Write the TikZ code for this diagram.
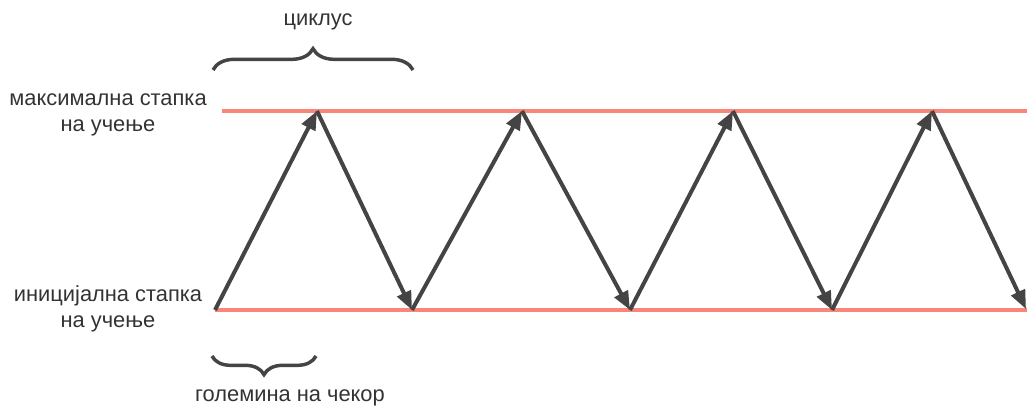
\documentclass[tikz,border=0pt]{standalone}
\usepackage{fontspec}
\setmainfont{Liberation Sans}
\usetikzlibrary{arrows.meta,decorations.pathreplacing}
\definecolor{arrowgray}{HTML}{444444}
\definecolor{salmon}{HTML}{F8877A}
\definecolor{txtgray}{HTML}{333333}
\begin{document}
\begin{tikzpicture}[x=0.75pt,y=-0.75pt,
  level/.style={draw=salmon,line width=2.6pt},
  zig/.style={draw=arrowgray,line width=3pt,-{Triangle[length=14pt,width=11pt]}},
  lbl/.style={text=txtgray,font=\fontsize{16.4}{19}\selectfont,align=center,inner sep=0pt},
  brc/.style={draw=arrowgray,line width=2.6pt,decorate}]
\useasboundingbox (0,0) rectangle (1027,409);
% levels
\coordinate (tl) at (222,111);
\coordinate (tr) at (1027,111);
\coordinate (bl) at (215,310);
\coordinate (br) at (1027,310);
\draw[level] (tl) -- (tr);
\draw[level] (bl) -- (br);
% vertices
\coordinate (b0) at (215,310);
\coordinate (t1) at (317,111);
\coordinate (b1) at (412,310);
\coordinate (t2) at (522,111);
\coordinate (b2) at (630,310);
\coordinate (t3) at (733,111);
\coordinate (b3) at (832,310);
\coordinate (t4) at (932,111);
\coordinate (b4) at (1026,309);
\draw[zig] (b0) -- (t1);
\draw[zig] (t1) -- (b1);
\draw[zig] (b1) -- (t2);
\draw[zig] (t2) -- (b2);
\draw[zig] (b2) -- (t3);
\draw[zig] (t3) -- (b3);
\draw[zig] (b3) -- (t4);
\draw[zig] (t4) -- (b4);
% labels
\node[lbl] (max) at (108,115) {максимална стапка\\на учење};
\node[lbl] (ini) at (108,309) {иницијална стапка\\на учење};
% braces
\coordinate (c1) at (213,70);
\coordinate (c2) at (413,70);
\draw[brc,decoration={brace,amplitude=16pt}] (c1) -- (c2);
\node[lbl] (cyc) at (318,22) {циклус};
\coordinate (s1) at (316,356);
\coordinate (s2) at (212,356);
\draw[brc,decoration={brace,amplitude=14pt}] (s1) -- (s2);
\node[lbl] (step) at (290,398) {големина на чекор};
\end{tikzpicture}
\end{document}
